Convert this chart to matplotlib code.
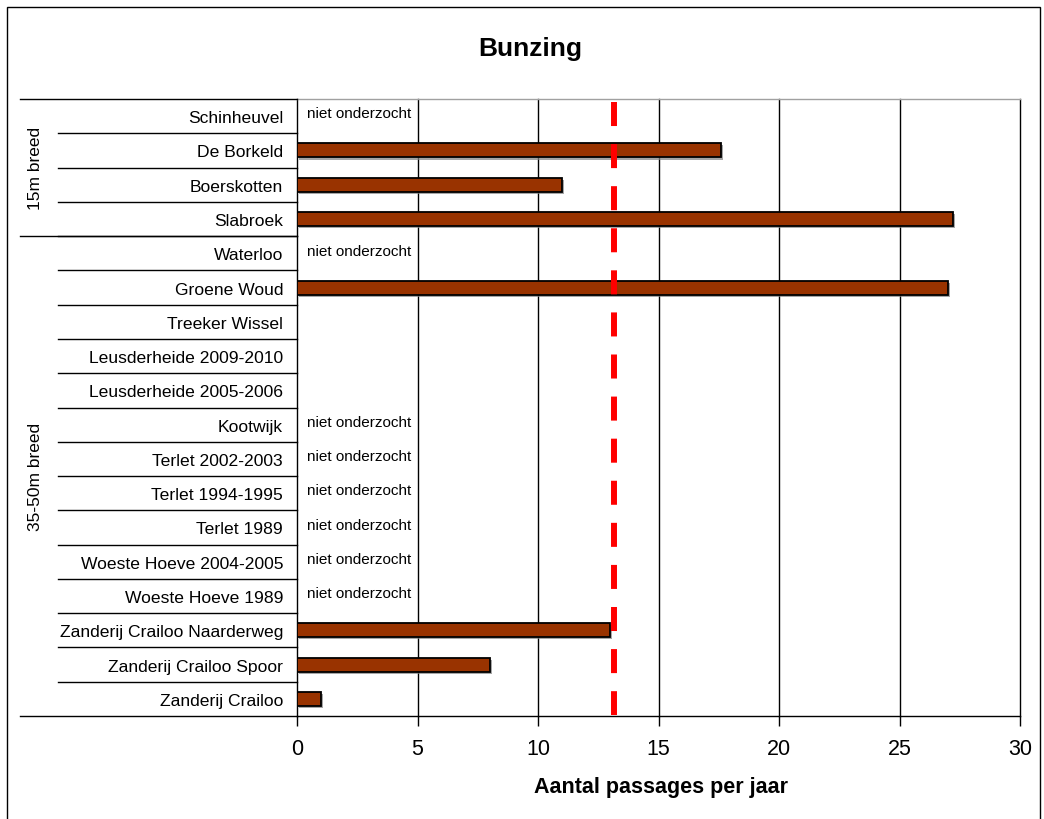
import matplotlib
matplotlib.use("Agg")
import matplotlib.pyplot as plt
import matplotlib.transforms as mtransforms
import matplotlib.patheffects as pe
from matplotlib.patches import Rectangle
import numpy as np

plt.rcParams['font.family'] = ['Liberation Sans', 'DejaVu Sans']
plt.rcParams['lines.scale_dashes'] = False

# ---- data ----
categories = [
    "Schinheuvel", "De Borkeld", "Boerskotten", "Slabroek",
    "Waterloo", "Groene Woud", "Treeker Wissel",
    "Leusderheide 2009-2010", "Leusderheide 2005-2006", "Kootwijk",
    "Terlet 2002-2003", "Terlet 1994-1995", "Terlet 1989",
    "Woeste Hoeve 2004-2005", "Woeste Hoeve 1989",
    "Zanderij Crailoo Naarderweg", "Zanderij Crailoo Spoor", "Zanderij Crailoo",
]
values = [np.nan, 17.6, 11.0, 27.2,
          np.nan, 27.0, np.nan,
          np.nan, np.nan, np.nan,
          np.nan, np.nan, np.nan,
          np.nan, np.nan,
          13.0, 8.0, 1.0]
not_studied = [True, False, False, False,
               True, False, False,
               False, False, True,
               True, True, True,
               True, True,
               False, False, False]
groups = ["15m breed", "35-50m breed"]
group_sizes = [4, 14]
reference_value = 13.15
xticks = [0, 5, 10, 15, 20, 25, 30]
title = "Bunzing"
xlabel = "Aantal passages per jaar"
note = "niet onderzocht"

W, H = 1044, 820
fig = plt.figure(figsize=(W / 100, H / 100), dpi=100)
ax = fig.add_axes([297 / W, 1 - 717 / H, (1020 - 297) / W, (717 - 100) / H])

n = len(categories)
ypos = np.arange(n)
vals = np.array(values, dtype=float)
mask = ~np.isnan(vals)
ax.barh(ypos[mask], vals[mask], height=0.41, color="#993300",
        edgecolor="black", linewidth=1.3, zorder=3,
        path_effects=[pe.SimplePatchShadow(offset=(1.5, -1.5), shadow_rgbFace="gray", alpha=0.7), pe.Normal()])

for y, ns in zip(ypos, not_studied):
    if ns:
        ax.text(0.42, y - 0.08, note, fontsize=11, va="center", ha="left", zorder=4)

ax.set_xlim(0, 30)
ax.set_ylim(n - 0.5, -0.5)
ax.set_xticks(xticks)
ax.set_xticklabels([str(t) for t in xticks], fontsize=15.5)
ax.set_yticks(ypos)
ax.set_yticklabels(categories, fontsize=12.6)
ax.tick_params(axis="y", length=0, pad=10)
ax.tick_params(axis="x", length=7, width=1, direction="out", pad=9)

for x in xticks[1:]:
    ax.axvline(x, color="black", linewidth=1, zorder=1, clip_on=False)

ax.spines["right"].set_visible(False)
ax.spines["top"].set_color("#a0a0a0")
ax.spines["top"].set_linewidth(1)
for s in ["left", "bottom"]:
    ax.spines[s].set_linewidth(1)
    ax.spines[s].set_color("black")

# red dashed reference line
ax.plot([reference_value, reference_value], [-0.41, n - 0.53], color="#ff0000",
        linewidth=4.3, dashes=(17.3, 13.0), solid_capstyle="butt",
        dash_capstyle="butt", zorder=5)

# separators in label area
trans = mtransforms.blended_transform_factory(fig.transFigure, ax.transData)
for b in np.arange(0.5, n - 1, 1.0):
    fig.add_artist(plt.Line2D([58 / W, 297 / W], [b, b], transform=trans,
                              color="black", linewidth=1))
bounds = np.concatenate([[0], np.cumsum(group_sizes)]) - 0.5
for b in bounds:
    fig.add_artist(plt.Line2D([20 / W, 297 / W], [b, b], transform=trans,
                              color="black", linewidth=1))
for g, lo, hi in zip(groups, bounds[:-1], bounds[1:]):
    fig.text(36 / W, (lo + hi) / 2, g, transform=trans, fontsize=12.5,
             rotation=90, ha="center", va="center")

fig.text(530 / W, 1 - 55.7 / H, title, fontsize=19, fontweight="bold",
         ha="center", va="baseline")
fig.text(661 / W, 1 - 788 / H, xlabel, fontsize=15.5,
         fontweight="bold", ha="center", va="center")

fig.add_artist(Rectangle((7 / W, -0.05), (1040 - 7) / W, 1 - 8 / H + 0.05,
                         transform=fig.transFigure, fill=False,
                         edgecolor="black", linewidth=1))

fig.savefig("out.png", dpi=100)
